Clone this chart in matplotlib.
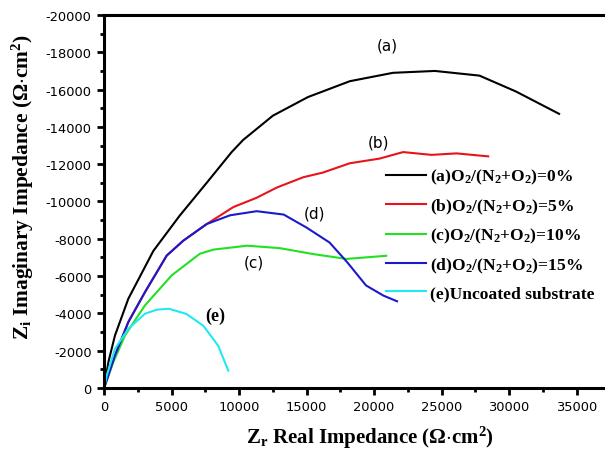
import matplotlib
matplotlib.use('Agg')
import matplotlib.pyplot as plt
from matplotlib.ticker import MultipleLocator

plt.rcParams['axes.unicode_minus'] = False
plt.rcParams['mathtext.fontset'] = 'custom'
plt.rcParams['mathtext.rm'] = 'Liberation Serif:bold'
plt.rcParams['mathtext.it'] = 'Liberation Serif:bold'
plt.rcParams['mathtext.bf'] = 'Liberation Serif:bold'

# Nyquist data (Zr, Zi)
a_zr = [0, 320, 810, 1800, 3650, 5600, 7600, 9450, 10300, 12500, 15100, 18200, 21400, 24500, 27800, 30500, 33700]
a_zi = [0, -1390, -2820, -4790, -7350, -9240, -11000, -12650, -13300, -14600, -15600, -16450, -16900, -17000, -16750, -15900, -14700]

b_zr = [0, 320, 810, 1800, 3030, 4640, 5870, 7600, 9570, 11300, 12800, 14750, 16200, 18200, 20400, 22150, 24250, 26100, 28450]
b_zi = [0, -680, -1750, -3540, -5140, -7100, -7900, -8790, -9700, -10200, -10750, -11300, -11550, -12050, -12300, -12650, -12500, -12580, -12420]

c_zr = [0, 690, 1550, 3030, 5010, 7100, 8100, 10600, 13000, 15500, 17950, 20900]
c_zi = [0, -1390, -2820, -4430, -6040, -7200, -7420, -7630, -7500, -7180, -6920, -7090]

d_zr = [0, 320, 810, 1800, 3030, 4640, 5870, 7600, 9330, 11300, 13300, 15000, 16700, 18000, 19400, 20700, 21700]
d_zi = [0, -680, -1750, -3540, -5140, -7100, -7900, -8790, -9260, -9480, -9300, -8600, -7800, -6750, -5500, -4950, -4650]

e_zr = [0, 200, 810, 1800, 3030, 3900, 4800, 6100, 7350, 8450, 9200]
e_zi = [0, -680, -2110, -3180, -3980, -4200, -4250, -3970, -3340, -2270, -930]

labels = [r'(a)O$_2$/(N$_2$+O$_2$)=0%',
          r'(b)O$_2$/(N$_2$+O$_2$)=5%',
          r'(c)O$_2$/(N$_2$+O$_2$)=10%',
          r'(d)O$_2$/(N$_2$+O$_2$)=15%',
          '(e)Uncoated substrate']
colors = ['black', '#e8141c', '#22e022', '#1a1acc', '#22e8f0']

fig = plt.figure(figsize=(6.05, 4.52), dpi=100)
ax = fig.add_axes([0.172, 0.1394, 0.828, 0.8252])

series = [(a_zr, a_zi), (b_zr, b_zi), (c_zr, c_zi), (d_zr, d_zi), (e_zr, e_zi)]
for (zr, zi), lab, col in zip(series, labels, colors):
    ax.plot(zr, zi, color=col, lw=1.5, label=lab)

ax.set_xlim(0, 37100)
ax.set_ylim(0, -20000)
ax.xaxis.set_major_locator(MultipleLocator(5000))
ax.xaxis.set_minor_locator(MultipleLocator(2500))
ax.yaxis.set_major_locator(MultipleLocator(2000))
ax.yaxis.set_minor_locator(MultipleLocator(1000))
ax.tick_params(which='both', direction='out', width=2, labelsize=9.4, pad=4)
ax.tick_params(which='major', length=5)
ax.tick_params(which='minor', length=3)
for lbl in ax.get_xticklabels() + ax.get_yticklabels():
    lbl.set_family('DejaVu Sans')

for side in ['left', 'bottom', 'top']:
    ax.spines[side].set_linewidth(2.2)
ax.spines['right'].set_visible(False)

ax.set_xlabel(r'Z$_\mathrm{r}$ Real Impedance ($\Omega$$\cdot$cm$^2$)',
              family='Liberation Serif', fontweight='bold', fontsize=15)
ax.set_ylabel(r'Z$_\mathrm{i}$ Imaginary Impedance ($\Omega$$\cdot$cm$^2$)',
              family='Liberation Serif', fontweight='bold', fontsize=15.4)
ax.xaxis.set_label_coords(0.531, -0.095)
ax.yaxis.set_label_coords(-0.135, 0.542)

# curve annotations
ax.text(21000, -18400, '(a)', fontsize=11, ha='center', va='center')
ax.text(20300, -13200, '(b)', fontsize=11, ha='center', va='center')
ax.text(15600, -9400, '(d)', fontsize=11, ha='center', va='center')
ax.text(11100, -6750, '(c)', fontsize=11, ha='center', va='center')
ax.text(8200, -3900, '(e)', fontsize=13, ha='center', va='center',
        family='Liberation Serif', fontweight='bold')

ax.legend(loc='upper left', bbox_to_anchor=(0.638, 0.628), bbox_transform=fig.transFigure,
          frameon=False, borderpad=0, borderaxespad=0, handlelength=2.3,
          handletextpad=0.2, labelspacing=0.585,
          prop={'family': 'Liberation Serif', 'weight': 'bold', 'size': 12.6})

fig.savefig('out.png', dpi=100)
